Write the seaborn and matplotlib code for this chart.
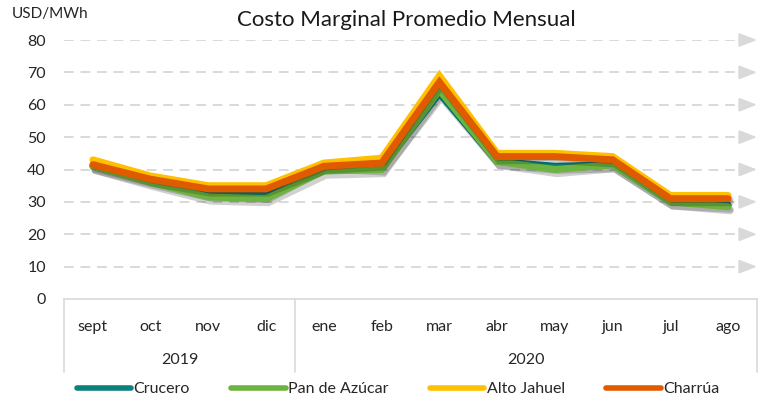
import matplotlib
matplotlib.use("Agg")
import matplotlib.pyplot as plt
import matplotlib.patheffects as pe
from matplotlib.lines import Line2D
import pandas as pd
import seaborn as sns

# datos (USD/MWh)
meses = ['sept', 'oct', 'nov', 'dic', 'ene', 'feb', 'mar', 'abr', 'may', 'jun', 'jul', 'ago']
anios = ['2019', '2020']
meses_por_anio = [4, 8]

crucero = [41.0, 36.5, 32.5, 32.0, 41.5, 40.5, 63.5, 42.5, 41.0, 41.5, 30.0, 29.0]
pan_de_azucar = [41.0, 36.0, 31.5, 31.0, 39.5, 40.0, 64.5, 42.5, 40.0, 41.5, 30.0, 28.5]
alto_jahuel = [43.0, 38.0, 35.0, 35.0, 42.0, 43.5, 69.0, 45.0, 45.0, 44.0, 32.0, 32.0]
charrua = [41.5, 37.0, 34.0, 34.0, 41.0, 42.0, 67.0, 44.0, 44.0, 43.0, 31.0, 31.0]

barras = ['Crucero', 'Pan de Azúcar', 'Alto Jahuel', 'Charrúa']
colores = ['#0b807c', '#6db33f', '#ffc000', '#e05a00']

df = pd.DataFrame({
    'x': list(range(len(meses))) * 4,
    'valor': crucero + pan_de_azucar + alto_jahuel + charrua,
    'barra': [b for b in barras for _ in meses],
})

sns.set_theme(style='white')
plt.rcParams['font.family'] = ['Lato', 'DejaVu Sans']

fig = plt.figure(figsize=(7.64, 4.0), dpi=100)
ax = fig.add_axes([64 / 764, 1 - 299 / 400, 693 / 764, 259 / 400])

sns.lineplot(data=df, x='x', y='valor', hue='barra', hue_order=barras,
             palette=colores, linewidth=5, legend=False, ax=ax, zorder=3)

for ln in ax.get_lines():
    ln.set_solid_joinstyle('miter')
    ln.set_path_effects([pe.SimpleLineShadow(offset=(1.5, -3), shadow_color='black', alpha=0.18),
                         pe.Normal()])

ax.set_xlim(-0.5, len(meses) - 0.5)
ax.set_ylim(0, 80)
ax.set_yticks(range(0, 81, 10))
ax.set_xticks(range(len(meses)))
ax.set_xticklabels(meses)
ax.tick_params(axis='both', length=0, labelsize=11.5, colors='#262626')
ax.tick_params(axis='x', pad=15)
ax.tick_params(axis='y', pad=13)
ax.set_xlabel('')
ax.set_ylabel('')

# lineas de grilla punteadas con flecha
ax.grid(axis='y', color='#d9d9d9', linestyle=(0, (5, 3.5)), linewidth=1.4)
ax.yaxis.get_gridlines()[0].set_visible(False)
for y in range(10, 81, 10):
    ax.annotate('', xy=(1.0, y), xytext=(0.975, y),
                xycoords=ax.get_yaxis_transform(),
                arrowprops=dict(arrowstyle='-|>,head_length=0.9,head_width=0.35',
                                color='#d9d9d9', lw=1.4, shrinkA=0, shrinkB=0))

for s in ['top', 'right', 'left']:
    ax.spines[s].set_visible(False)
ax.spines['bottom'].set_color('#d9d9d9')
ax.spines['bottom'].set_linewidth(1.2)

# eje x de dos niveles
tr = ax.get_xaxis_transform()
pos = -0.5
ax.plot([pos, pos], [0, -0.282], transform=tr, color='#d9d9d9', lw=1.2, clip_on=False)
for anio, n in zip(anios, meses_por_anio):
    ax.text(pos + n / 2, -0.236, anio, transform=tr, ha='center', va='center',
            fontsize=11.5, color='#262626')
    pos += n
    ax.plot([pos, pos], [0, -0.282], transform=tr, color='#d9d9d9', lw=1.2, clip_on=False)

fig.text(12 / 764, 1 - 14 / 400, 'USD/MWh', ha='left', va='center', fontsize=11, color='#262626')
fig.text(406 / 764, 1 - 20 / 400, 'Costo Marginal Promedio Mensual', ha='center', va='center',
         fontsize=16, color='#1a1a1a')

handles = [Line2D([0], [0], color=c, lw=4, solid_capstyle='round') for c in colores]
fig.legend(handles, barras, loc='center', bbox_to_anchor=(398 / 764, 1 - 389 / 400), ncol=4,
           frameon=False, fontsize=11.5, handlelength=3.4, handletextpad=0.15,
           columnspacing=2.6, labelcolor='#262626')

fig.savefig('out.png', dpi=100)
